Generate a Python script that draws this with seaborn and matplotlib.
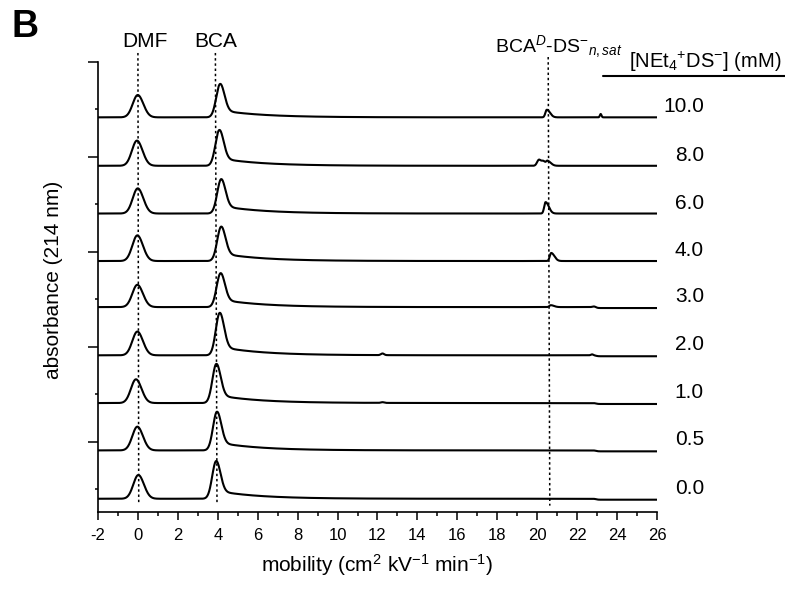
'''
Stacked CE traces of DMF / BCA at increasing [NEt4+DS-].
Each trace is rebuilt from the peak positions and heights read off the figure.
'''
import numpy as np
import pandas as pd
import seaborn as sns
from matplotlib import pyplot as plt
from matplotlib.ticker import MultipleLocator

sns.set_style('ticks')
plt.rcParams['font.family'] = ['Liberation Sans', 'DejaVu Sans']
plt.rcParams['mathtext.fontset'] = 'custom'
plt.rcParams['mathtext.rm'] = 'Liberation Sans'
plt.rcParams['mathtext.it'] = 'Liberation Sans:italic'
plt.rcParams['mathtext.bf'] = 'Liberation Sans:bold'
plt.rcParams['axes.unicode_minus'] = False
for key in ('text.color', 'axes.labelcolor', 'xtick.color', 'ytick.color', 'axes.edgecolor'):
    plt.rcParams[key] = 'black'

# concentration of NEt4+DS- for each trace (bottom -> top)
conc_labels = ['0.0', '0.5', '1.0', '2.0', '3.0', '4.0', '6.0', '8.0', '10.0']
# vertical offset of each trace (axis units, one tick = 1)
baselines = [-0.195, 0.823, 1.82, 2.825, 3.84, 4.81, 5.81, 6.815, 7.835]

# DMF (neutral marker) peak
dmf_pos = [0.02, -0.03, -0.10, -0.03, -0.03, -0.03, -0.01, -0.05, -0.01]
dmf_height = [0.50, 0.50, 0.50, 0.50, 0.47, 0.54, 0.53, 0.53, 0.47]

# BCA peak and its slow tail
bca_pos = [3.90, 3.94, 3.91, 4.08, 4.12, 4.15, 4.15, 4.06, 4.10]
bca_height = [0.79, 0.81, 0.82, 0.89, 0.71, 0.72, 0.72, 0.75, 0.70]
bca_tail = [0.17, 0.17, 0.17, 0.18, 0.16, 0.16, 0.16, 0.16, 0.15]

# BCA^D-DS-_n,sat complex peak
complex_pos = [20.6, 20.6, 20.6, 20.6, 20.68, 20.70, 20.42, 20.52, 20.48]
complex_height = [0.0, 0.0, 0.0, 0.0, 0.04, 0.17, 0.24, 0.10, 0.16]

# small extra bumps: trace index, position, height, width
bump_trace = [7, 7, 8, 3, 3, 2, 4]
bump_pos = [20.08, 20.30, 23.18, 12.25, 22.75, 12.25, 22.85]
bump_height = [0.12, 0.10, 0.07, 0.035, 0.02, 0.015, 0.015]
bump_width = [0.09, 0.10, 0.04, 0.08, 0.06, 0.08, 0.08]

# small baseline drop after ~23
step_drop = [0.02, 0.02, 0.02, 0.02, 0.02, 0.0, 0.0, 0.0, 0.0]

# dotted guide lines: x at top, x at bottom, y top, y bottom
guide_x_top = [0.0, 3.88, 20.55]
guide_x_bottom = [0.04, 3.96, 20.63]
guide_y_top = [9.19, 9.19, 9.105]
guide_y_bottom = [-0.27, -0.27, -0.34]


def bigauss(x, pos, h, s_left, s_right):
    s = np.where(x < pos, s_left, s_right)
    return h * np.exp(-0.5 * ((x - pos) / s) ** 2)


def build_trace(i, x):
    y = np.full_like(x, baselines[i])
    y += bigauss(x, dmf_pos[i], dmf_height[i], 0.25, 0.28)
    # bca: sharp front plus slow exponential tail
    onset = 1 / (1 + np.exp(-(x - bca_pos[i]) / 0.1))
    tail = bca_tail[i] * np.exp(-np.clip(x - bca_pos[i], 0, None) / 2.1) * onset
    y += bigauss(x, bca_pos[i], bca_height[i] - 0.5 * bca_tail[i], 0.19, 0.22) + tail
    y += bigauss(x, complex_pos[i], complex_height[i], 0.07, 0.16)
    for t, p, h, w in zip(bump_trace, bump_pos, bump_height, bump_width):
        if t == i:
            y += bigauss(x, p, h, w, w)
    y -= step_drop[i] / (1 + np.exp(-(x - 22.95) / 0.05))
    return y


x = np.arange(-2, 26.001, 0.01)
frames = []
for i, lab in enumerate(conc_labels):
    frames.append(pd.DataFrame({'mobility': x, 'absorbance': build_trace(i, x), 'conc': lab}))
df = pd.concat(frames, ignore_index=True)

fig = plt.figure(figsize=(7.85, 5.92), dpi=100)
ax = fig.add_axes([98 / 785, 80 / 592, 559 / 785, 450 / 592])

sns.lineplot(data=df, x='mobility', y='absorbance', units='conc', estimator=None,
             color='black', linewidth=1.5, sort=False, ax=ax, legend=False)

# dotted guides
for xt, xb, yt, yb in zip(guide_x_top, guide_x_bottom, guide_y_top, guide_y_bottom):
    ax.plot([xt, xb], [yt, yb], color='black', lw=1.1, ls=(0, (1.6, 1.8)), clip_on=False)

ax.set_xlim(-2, 26)
ax.set_ylim(-0.474, 9)
ax.xaxis.set_major_locator(MultipleLocator(2))
ax.xaxis.set_minor_locator(MultipleLocator(1))
ax.set_yticks([1, 3, 5, 7, 9])
ax.set_yticks([0, 2, 4, 6, 8], minor=True)
ax.tick_params(axis='both', which='both', direction='out', width=1.1, color='black')
ax.tick_params(axis='x', which='major', length=5.5, labelsize=12, pad=6)
ax.tick_params(axis='x', which='minor', length=3)
ax.tick_params(axis='y', which='major', length=7, labelleft=False)
ax.tick_params(axis='y', which='minor', length=2.5)
sns.despine(ax=ax)
for s in ('left', 'bottom'):
    ax.spines[s].set_linewidth(1.2)

ax.set_xlabel('')
ax.set_ylabel('absorbance (214 nm)', fontsize=15)
ax.yaxis.set_label_coords(-0.063, 0.516)
ax.text(0.5, -0.133, 'mobility (cm$^{2}$ kV$^{-1}$ min$^{-1}$)', transform=ax.transAxes,
        ha='center', va='baseline', fontsize=15)

# peak names
ax.text(0.33, 9.32, 'DMF', ha='center', va='baseline', fontsize=15, clip_on=False)
ax.text(3.90, 9.32, 'BCA', ha='center', va='baseline', fontsize=15, clip_on=False)
ax.text(17.89, 9.21, r'BCA$^{D}$-DS$^{-}$$_{n,sat}$', ha='left', va='baseline',
        fontsize=14, clip_on=False)

# concentration header + labels
ax.text(24.6, 8.87, r'[NEt$_{4}$$^{+}$DS$^{-}$] (mM)', ha='left', va='baseline',
        fontsize=14.5, clip_on=False)
ax.plot([23.3, 32.6], [8.705, 8.705], color='black', lw=1.5, clip_on=False)
for base, lab in zip(baselines, conc_labels):
    ax.text(28.35, base + 0.105, lab, ha='right', va='baseline', fontsize=15, clip_on=False)

fig.text(12 / 785, 1 - 37 / 592, 'B', fontsize=27, fontweight='bold', va='baseline')

fig.savefig('out.png', dpi=100)
